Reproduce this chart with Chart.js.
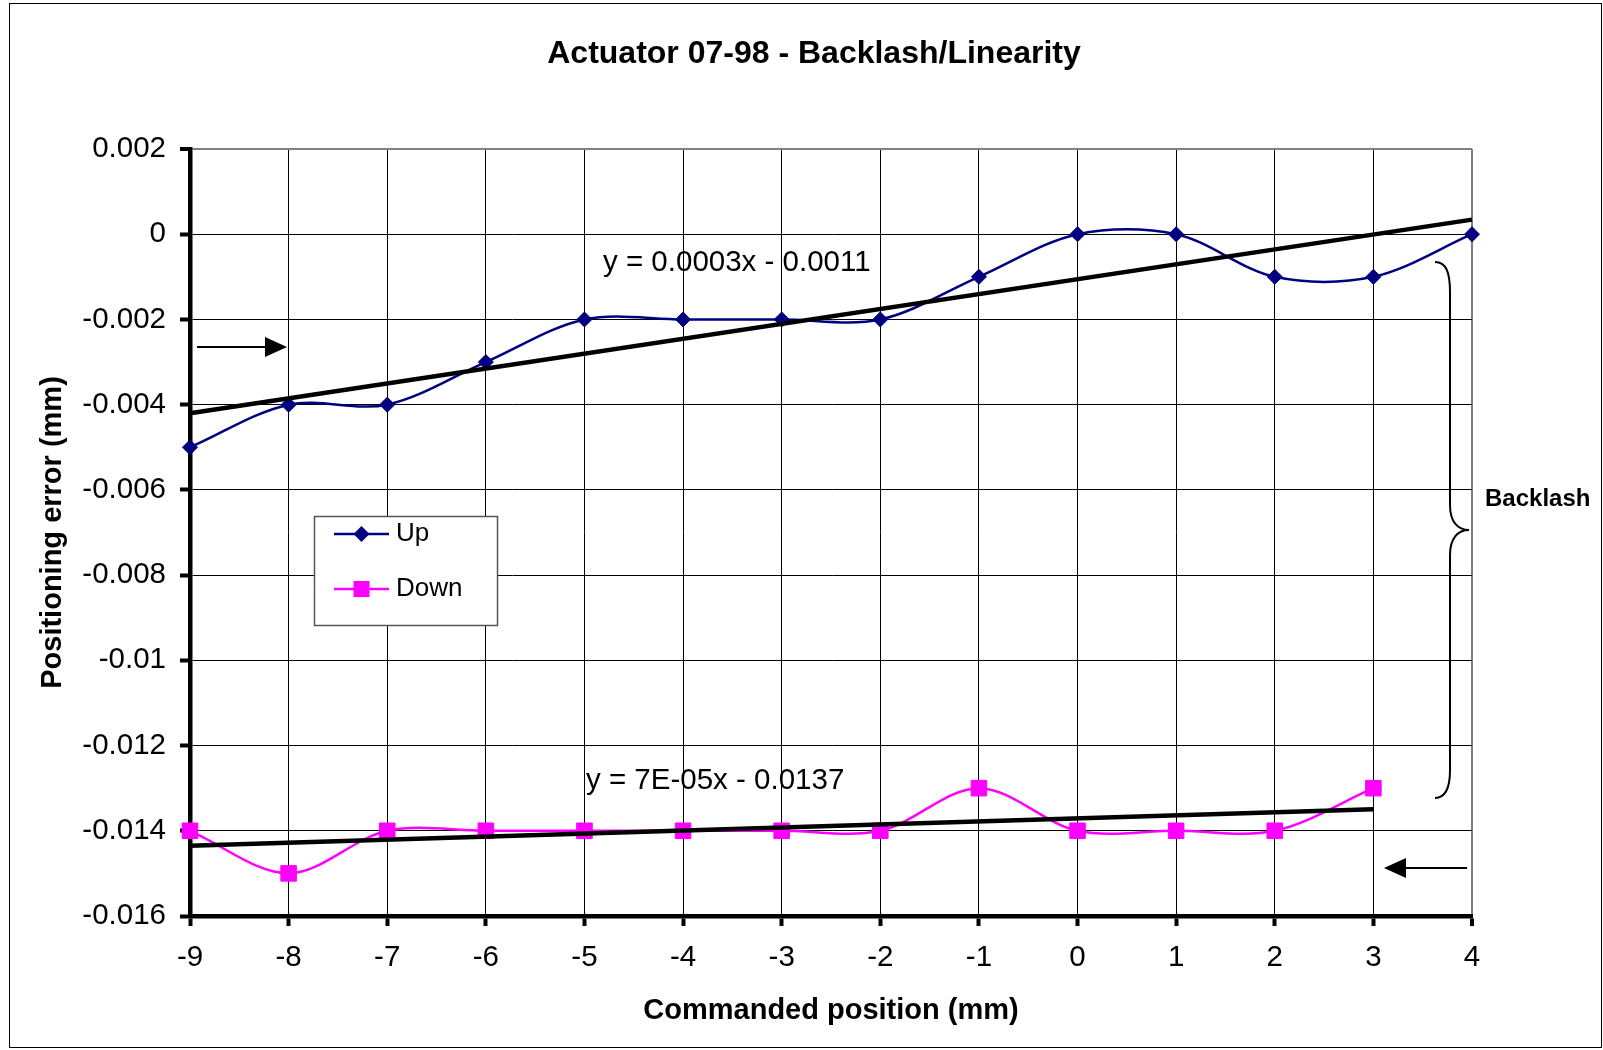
<!DOCTYPE html>
<html><head><meta charset="utf-8">
<script src="https://cdn.jsdelivr.net/npm/chart.js@4.4.0/dist/chart.umd.min.js"></script>
<style>html,body{margin:0;padding:0;background:#fff;} canvas{display:block;}</style>
</head><body>
<canvas id="c" width="1603" height="1050"></canvas>
<script>
// ---- data ----
const chartTitle = 'Actuator 07-98 - Backlash/Linearity';
const xAxisTitle = 'Commanded position (mm)';
const yAxisTitle = 'Positioning error (mm)';
const seriesLabels = ['Up', 'Down'];
const positionsUp = [-9, -8, -7, -6, -5, -4, -3, -2, -1, 0, 1, 2, 3, 4];
const errorUp = [-0.005, -0.004, -0.004, -0.003, -0.002, -0.002, -0.002, -0.002, -0.001, 0, 0, -0.001, -0.001, 0];
const positionsDown = [-9, -8, -7, -6, -5, -4, -3, -2, -1, 0, 1, 2, 3];
const errorDown = [-0.014, -0.015, -0.014, -0.014, -0.014, -0.014, -0.014, -0.014, -0.013, -0.014, -0.014, -0.014, -0.013];
const xTickValues = [-9, -8, -7, -6, -5, -4, -3, -2, -1, 0, 1, 2, 3, 4];
const xTickLabels = ['-9', '-8', '-7', '-6', '-5', '-4', '-3', '-2', '-1', '0', '1', '2', '3', '4'];
const yTickValues = [-0.016, -0.014, -0.012, -0.01, -0.008, -0.006, -0.004, -0.002, 0, 0.002];
const yTickLabels = ['-0.016', '-0.014', '-0.012', '-0.01', '-0.008', '-0.006', '-0.004', '-0.002', '0', '0.002'];
const trendLabels = ['y = 0.0003x - 0.0011', 'y = 7E-05x - 0.0137'];
const annotationLabel = 'Backlash';

// least squares trend line (as the spreadsheet's linear trendline)
function linFit(xs, ys) {
  const n = xs.length;
  const mx = xs.reduce((a, b) => a + b, 0) / n;
  const my = ys.reduce((a, b) => a + b, 0) / n;
  let sxy = 0, sxx = 0;
  for (let i = 0; i < n; i++) { sxy += (xs[i] - mx) * (ys[i] - my); sxx += (xs[i] - mx) ** 2; }
  const m = sxy / sxx, b = my - m * mx;
  const x0 = xs[0], x1 = xs[n - 1];
  return [{x: x0, y: m * x0 + b}, {x: x1, y: m * x1 + b}];
}
const toPts = (xs, ys) => xs.map((x, i) => ({x, y: ys[i]}));

const FONT = "'Liberation Sans', Arial, Helvetica, sans-serif";
const NAVY = '#000080', MAGENTA = '#FF00FF';
const near = (a, b) => Math.abs(a - b) < 1e-9;

const annot = {
  id: 'annot',
  beforeDraw(chart) {
    const ctx = chart.ctx;
    ctx.save(); ctx.fillStyle = '#fff'; ctx.fillRect(0, 0, chart.width, chart.height); ctx.restore();
  },
  afterDraw(chart) {
    const ctx = chart.ctx;
    ctx.save();
    ctx.fillStyle = '#000';
    ctx.textBaseline = 'middle';
    // title
    ctx.font = 'bold 32px ' + FONT;
    ctx.textAlign = 'center';
    ctx.fillText(chartTitle, 814, 54);
    // trend equations
    ctx.font = '29.5px ' + FONT;
    ctx.textAlign = 'left';
    ctx.fillText(trendLabels[0], 603, 263);
    ctx.fillText(trendLabels[1], 586, 781);
    // Backlash
    ctx.font = 'bold 24px ' + FONT;
    ctx.fillText(annotationLabel, 1485, 499);
    // arrows
    ctx.strokeStyle = '#000'; ctx.lineWidth = 2;
    ctx.beginPath(); ctx.moveTo(197, 347); ctx.lineTo(270, 347); ctx.stroke();
    ctx.beginPath(); ctx.moveTo(287, 347); ctx.lineTo(265, 337); ctx.lineTo(265, 357); ctx.closePath(); ctx.fill();
    ctx.beginPath(); ctx.moveTo(1467, 868); ctx.lineTo(1400, 868); ctx.stroke();
    ctx.beginPath(); ctx.moveTo(1384, 868); ctx.lineTo(1406, 858); ctx.lineTo(1406, 878); ctx.closePath(); ctx.fill();
    // brace
    ctx.lineWidth = 2;
    ctx.beginPath();
    ctx.moveTo(1435, 262);
    ctx.bezierCurveTo(1446, 262, 1450, 272, 1450, 292);
    ctx.lineTo(1450, 505);
    ctx.bezierCurveTo(1450, 522, 1458, 530, 1469, 530);
    ctx.bezierCurveTo(1458, 530, 1450, 538, 1450, 555);
    ctx.lineTo(1450, 770);
    ctx.bezierCurveTo(1450, 788, 1446, 798, 1435, 798);
    ctx.stroke();
    // legend
    const lx = 314, ly = 516, lw = 184, lh = 110;
    ctx.fillStyle = '#fff'; ctx.fillRect(lx, ly, lw, lh);
    ctx.strokeStyle = '#555'; ctx.lineWidth = 1.5; ctx.strokeRect(lx + 0.5, ly + 0.5, lw - 1, lh - 1);
    const rows = [{y: 534, c: NAVY, s: 'd', t: chart.data.datasets[2].label},
                  {y: 589, c: MAGENTA, s: 'r', t: chart.data.datasets[3].label}];
    rows.forEach(r => {
      ctx.strokeStyle = r.c; ctx.fillStyle = r.c; ctx.lineWidth = 2.5;
      ctx.beginPath(); ctx.moveTo(334, r.y); ctx.lineTo(389, r.y); ctx.stroke();
      const cx = 361.5;
      ctx.beginPath();
      if (r.s === 'd') { ctx.moveTo(cx - 8, r.y); ctx.lineTo(cx, r.y - 8); ctx.lineTo(cx + 8, r.y); ctx.lineTo(cx, r.y + 8); ctx.closePath(); }
      else { ctx.rect(cx - 8, r.y - 8, 16, 16); }
      ctx.fill();
      ctx.fillStyle = '#000'; ctx.font = '26px ' + FONT; ctx.textAlign = 'left';
      ctx.fillText(r.t, 396, r.y);
    });
    // outer frame
    ctx.strokeStyle = '#000'; ctx.lineWidth = 1;
    ctx.strokeRect(9.5, 3.5, 1592, 1044);
    ctx.restore();
  }
};

new Chart(document.getElementById('c'), {
  type: 'line',
  data: {
    datasets: [
      {label: 'trendUp', data: linFit(positionsUp, errorUp), borderColor: '#000', borderWidth: 4.5, pointRadius: 0, tension: 0, clip: false},
      {label: 'trendDown', data: linFit(positionsDown, errorDown), borderColor: '#000', borderWidth: 4.5, pointRadius: 0, tension: 0, clip: false},
      {label: seriesLabels[0], data: toPts(positionsUp, errorUp), borderColor: NAVY, backgroundColor: NAVY, borderWidth: 2.5,
       pointStyle: 'rectRot', pointRadius: 7.5, pointBorderWidth: 1, pointBorderColor: NAVY, pointBackgroundColor: NAVY, tension: 0.33, clip: false},
      {label: seriesLabels[1], data: toPts(positionsDown, errorDown), borderColor: MAGENTA, backgroundColor: MAGENTA, borderWidth: 2.5,
       pointStyle: 'rect', pointRadius: 11, pointBorderWidth: 1, pointBorderColor: MAGENTA, pointBackgroundColor: MAGENTA, tension: 0.33, clip: false}
    ]
  },
  options: {
    responsive: false,
    animation: false,
    events: [],
    layout: {padding: {left: 0, top: 149, right: 131, bottom: 0}},
    plugins: {legend: {display: false}, title: {display: false}, tooltip: {enabled: false}},
    scales: {
      x: {
        type: 'linear', min: -9, max: 4,
        afterBuildTicks: s => { s.ticks = xTickValues.map(v => ({value: v})); },
        afterFit: s => { s.height = 134; },
        ticks: {
          callback: v => xTickLabels[xTickValues.findIndex(t => near(t, v))],
          font: {family: FONT, size: 29.5}, color: '#000', padding: 14, maxRotation: 0, autoSkip: false
        },
        grid: {
          color: c => (c.tick && near(c.tick.value, 4)) ? '#808080' : '#000',
          lineWidth: c => (c.tick && near(c.tick.value, 4)) ? 2 : 1,
          tickColor: '#000', tickWidth: 4, tickLength: 10
        },
        border: {display: true, color: '#000', width: 4.5},
        title: {display: true, text: xAxisTitle, color: '#000', font: {family: FONT, size: 29, weight: 'bold'}, padding: {top: 0, bottom: 22}}
      },
      y: {
        type: 'linear', min: -0.016, max: 0.002,
        afterBuildTicks: s => { s.ticks = yTickValues.map(v => ({value: v})); },
        afterFit: s => { s.width = 190; },
        ticks: {
          callback: v => yTickLabels[yTickValues.findIndex(t => near(t, v))],
          font: {family: FONT, size: 29.5}, color: '#000', padding: 14, autoSkip: false
        },
        grid: {
          color: c => (c.tick && near(c.tick.value, 0.002)) ? '#808080' : '#000',
          lineWidth: c => (c.tick && near(c.tick.value, 0.002)) ? 2 : 1,
          tickColor: '#000', tickWidth: 4, tickLength: 10
        },
        border: {display: true, color: '#000', width: 4.5},
        title: {display: true, text: yAxisTitle, color: '#000', font: {family: FONT, size: 29, weight: 'bold'}, padding: {top: 36, bottom: 0}}
      }
    }
  },
  plugins: [annot]
});
</script>
</body></html>
